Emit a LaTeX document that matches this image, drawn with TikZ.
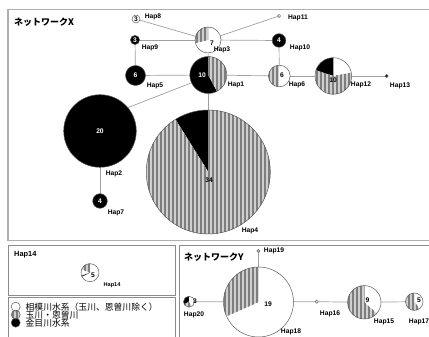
\documentclass[tikz,border=0pt]{standalone}
\usepackage{fontspec}
\setmainfont{Liberation Sans}
\newfontfamily\jpfont{Noto Sans CJK JP}
\usetikzlibrary{patterns}

% vertical hatching used for the striped (gray) region class
\pgfdeclarepatternformonly{vstripes}{\pgfpoint{-0.5pt}{-0.5pt}}{\pgfpoint{4.5pt}{1.5pt}}{\pgfpoint{4pt}{1pt}}{%
  \pgfpathrectangle{\pgfpoint{0pt}{-0.5pt}}{\pgfpoint{1.7pt}{2pt}}\pgfusepath{fill}}

\definecolor{stripebase}{HTML}{CFCFCF}
\definecolor{stripeink}{HTML}{7E7E7E}
\definecolor{linkgray}{HTML}{A0A0A0}
\definecolor{ringgray}{HTML}{5A5A5A}
\definecolor{framegray}{HTML}{8C8C8C}

\newcommand\labfont{\bfseries\fontsize{6.7}{7}\selectfont}
\newcommand\titlefont{\jpfont\bfseries\fontsize{9}{10}\selectfont}

% one pie sector: node, radius, start angle, end angle, style
\newcommand\pieseg[5]{\path[#5] (#1.center) -- ++(#3:#2) arc[start angle=#3, end angle=#4, radius=#2] -- cycle;}
% full disc and outline
\newcommand\disc[3]{\path[#3] (#1.center) circle[radius=#2];}
\newcommand\ring[2]{\draw[ringline] (#1.center) circle[radius=#2];}
% invisible anchor node of a haplotype circle: name, x, y, radius
\newcommand\haploc[4]{\node[hapnode, minimum size=2*#4 pt] (#1) at (#2,#3) {};}

\tikzset{
  hapnode/.style={circle, inner sep=0pt, outer sep=0pt},
  stripefill/.style={preaction={fill=stripebase}, pattern=vstripes, pattern color=stripeink},
  blackfill/.style={fill=black},
  whitefill/.style={fill=white},
  ringline/.style={draw=ringgray, line width=0.5pt},
  link/.style={draw=linkgray, line width=0.7pt},
  panel/.style={draw=framegray, line width=1pt},
  hlab/.style={font=\labfont, inner sep=0pt},
  cnt/.style={font=\labfont, inner sep=0pt},
  cntw/.style={font=\labfont, inner sep=0pt, text=white},
  ptitle/.style={font=\titlefont, inner sep=0pt, anchor=west},
  legtext/.style={font=\jpfont\fontsize{8.8}{9}\selectfont, inner sep=0pt, anchor=west},
}

\begin{document}
\begin{tikzpicture}[x=1pt, y=1pt]
\useasboundingbox (0,0) rectangle (429,337);
\fill[white] (0,0) rectangle (429,337);

% panels
\draw[panel, draw=framegray!70, line width=1.6pt] (8,96.5) rectangle (445,327.5);
\draw[panel] (8,41) rectangle (175,91.3);
\draw[panel] (8,-10) rectangle (175,39);
\draw[panel] (179,-10) rectangle (445,91.3);

\node[ptitle] (titleX) at (14,315) {ネットワークX};
\node[ptitle] (titleY) at (184,80) {ネットワークY};
\node[hlab, font=\bfseries\fontsize{7.4}{8}\selectfont, anchor=west] (title14) at (14,82) {Hap14};

% haplotype positions (network X)
\haploc{hap8}{136}{318}{4}
\haploc{hap3}{208}{297}{13}
\haploc{hap11}{279}{321}{1.6}
\haploc{hap9}{135}{297}{4.6}
\haploc{hap10}{279}{296.5}{6.8}
\haploc{hap5}{135.5}{261.5}{10}
\haploc{hap1}{208.3}{262}{18.5}
\haploc{hap6}{279.3}{261}{10.8}
\haploc{hap12}{333.3}{261}{18.3}
\haploc{hap13}{386.7}{261}{1.5}
\haploc{hap2}{100}{206}{36.3}
\haploc{hap7}{100}{136}{7.3}
\haploc{hap4}{208.3}{165}{62}
% network Y
\haploc{hap19}{258.5}{86}{1.6}
\haploc{hap18}{258.5}{35}{35}
\haploc{hap20}{189}{35.3}{5.5}
\haploc{hap16}{316.7}{35.3}{1.6}
\haploc{hap15}{364.3}{34.7}{16.7}
\haploc{hap17}{414.3}{35.3}{8.7}
% single haplotype panel
\haploc{hap14}{90}{64.3}{9}

% connectors
\draw[link] (hap8) -- (hap3);
\draw[link] (hap3) -- (hap11);
\draw[link] (hap9) -- (hap3);
\draw[link] (hap3) -- (hap10);
\draw[link] (hap3) -- (hap1);
\draw[link] (hap9) -- (hap5);
\draw[link] (hap10) -- (hap6);
\draw[link] (hap5) -- (hap1);
\draw[link] (hap1) -- (hap6);
\draw[link] (hap6) -- (hap12);
\draw[link] (hap12) -- (hap13);
\draw[link] (hap1.205) -- (hap2.40);
\draw[link] (hap1) -- (hap4);
\draw[link] (hap2) -- (hap7);
\draw[link] (hap19) -- (hap18);
\draw[link] (hap20) -- (hap18);
\draw[link] (hap18) -- (hap16);
\draw[link] (hap16) -- (hap15);
\draw[link] (hap15) -- (hap17);

% pies
\disc{hap8}{4}{whitefill}
\disc{hap3}{13}{whitefill}
\pieseg{hap3}{13}{90}{193}{stripefill}
\disc{hap11}{1.6}{whitefill}
\disc{hap9}{4.6}{blackfill}
\disc{hap10}{6.8}{blackfill}
\disc{hap5}{10}{blackfill}
\pieseg{hap1}{18.5}{90}{298}{blackfill}
\pieseg{hap1}{18.5}{-62}{90}{stripefill}
\pieseg{hap6}{10.8}{90}{270}{stripefill}
\pieseg{hap6}{10.8}{-90}{90}{whitefill}
\pieseg{hap12}{18.3}{10}{90}{whitefill}
\pieseg{hap12}{18.3}{90}{162}{blackfill}
\pieseg{hap12}{18.3}{162}{370}{stripefill}
\disc{hap13}{1.5}{blackfill}
\disc{hap2}{36.3}{blackfill}
\disc{hap7}{7.3}{blackfill}
\pieseg{hap4}{62}{90}{122}{blackfill}
\pieseg{hap4}{62}{122}{450}{stripefill}
\path[fill=stripebase] (hap19.center) circle[radius=1.6];
\disc{hap18}{35}{whitefill}
\pieseg{hap18}{35}{90}{204}{stripefill}
\pieseg{hap20}{5.5}{90}{210}{blackfill}
\pieseg{hap20}{5.5}{210}{300}{stripefill}
\pieseg{hap20}{5.5}{-60}{90}{whitefill}
\disc{hap16}{1.6}{whitefill}
\pieseg{hap15}{16.7}{-42}{90}{whitefill}
\pieseg{hap15}{16.7}{90}{318}{stripefill}
\pieseg{hap17}{8.7}{-55}{90}{whitefill}
\pieseg{hap17}{8.7}{90}{305}{stripefill}
\disc{hap14}{9}{whitefill}
\pieseg{hap14}{9}{90}{158}{stripefill}
\pieseg{hap14}{9}{200}{206}{blackfill}

% outlines
\ring{hap8}{4}\ring{hap3}{13}\ring{hap11}{1.6}\ring{hap9}{4.6}\ring{hap10}{6.8}
\ring{hap5}{10}\ring{hap1}{18.5}\ring{hap6}{10.8}\ring{hap12}{18.3}\ring{hap13}{1.5}
\ring{hap2}{36.3}\ring{hap7}{7.3}\ring{hap4}{62}
\ring{hap19}{1.6}\ring{hap18}{35}\ring{hap20}{5.5}\ring{hap16}{1.6}\ring{hap15}{16.7}\ring{hap17}{8.7}
\ring{hap14}{9}

% counts
\node[cnt] (c8) at (hap8.center) {3};
\node[cnt] (c3) at (212,294) {7};
\node[cntw] (c9) at (hap9.center) {3};
\node[cntw] (c10) at (hap10.center) {4};
\node[cntw] (c5) at (hap5.center) {6};
\node[cntw] (c1) at (202,262) {10};
\node[cnt] (c6) at (282,262) {6};
\node[cnt] (c12) at (333,257) {10};
\node[cntw] (c2) at (hap2.center) {20};
\node[cntw] (c7) at (hap7.center) {4};
\node[cnt] (c4) at (209,157) {34};
\node[cnt] (c18) at (268,33) {19};
\node[cnt] (c20) at (195,35.3) {3};
\node[cnt] (c15) at (367.5,37) {9};
\node[cnt] (c17) at (419,37) {5};
\node[cnt] (c14) at (93,62) {5};

% haplotype names
\node[hlab] (l8) at (153,320.5) {Hap8};
\node[hlab] (l11) at (298,319.5) {Hap11};
\node[hlab] (l9) at (150,289.5) {Hap9};
\node[hlab] (l3) at (222,287) {Hap3};
\node[hlab] (l10) at (300,289) {Hap10};
\node[hlab] (l5) at (155,251.5) {Hap5};
\node[hlab] (l1) at (236,252) {Hap1};
\node[hlab] (l6) at (297,252) {Hap6};
\node[hlab] (l12) at (361,252) {Hap12};
\node[hlab] (l13) at (400,251) {Hap13};
\node[hlab] (l2) at (114,163) {Hap2};
\node[hlab] (l7) at (116,124) {Hap7};
\node[hlab] (l4) at (250,106) {Hap4};
\node[hlab] (l19) at (274,86) {Hap19};
\node[hlab] (l18) at (291,5.5) {Hap18};
\node[hlab] (l20) at (194,22) {Hap20};
\node[hlab] (l16) at (330,23) {Hap16};
\node[hlab] (l15) at (384,15.5) {Hap15};
\node[hlab] (l17) at (419,15.5) {Hap17};
\node[hlab, font=\bfseries\fontsize{5.6}{6}\selectfont] (l14) at (112,52) {Hap14};

% legend
\node[hapnode, minimum size=9pt] (leg1) at (15.7,30.3) {};
\node[hapnode, minimum size=9pt] (leg2) at (15.7,22.3) {};
\node[hapnode, minimum size=9pt] (leg3) at (15.7,14.3) {};
\disc{leg1}{4.5}{whitefill}
\disc{leg2}{4.5}{stripefill}
\disc{leg3}{4.5}{blackfill}
\ring{leg1}{4.5}\ring{leg2}{4.5}\ring{leg3}{4.5}
\node[legtext] (t1) at (25.5,30.3) {相模川水系（玉川、恩曽川除く）};
\node[legtext] (t2) at (25.5,22.3) {玉川・恩曽川};
\node[legtext] (t3) at (25.5,14.3) {金目川水系};
\end{tikzpicture}
\end{document}
